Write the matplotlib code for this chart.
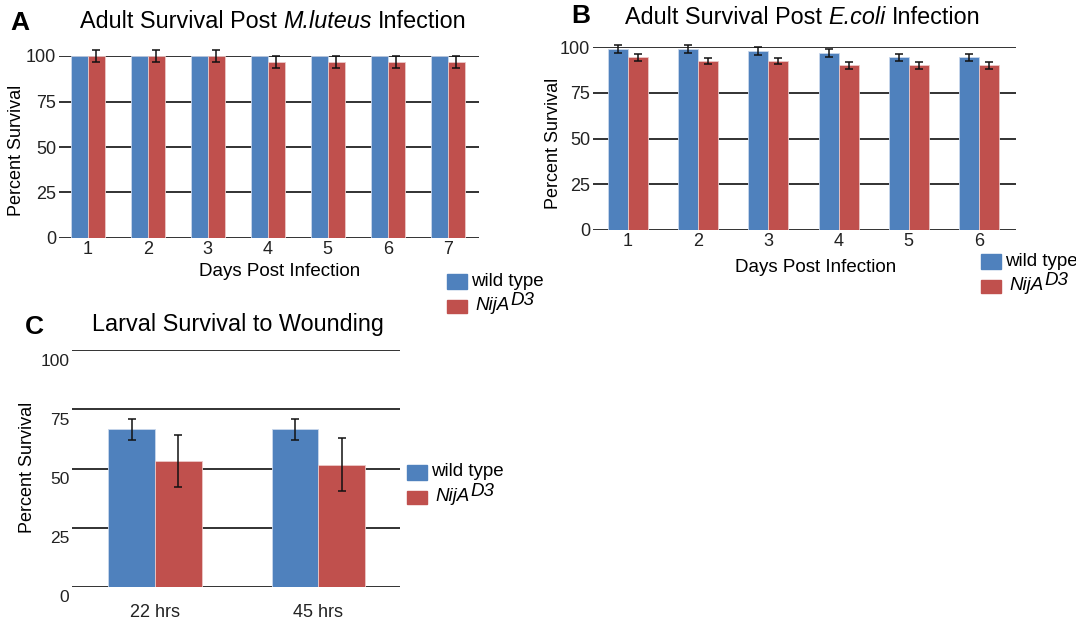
import numpy as np
import matplotlib.pyplot as plt
from matplotlib.patches import Rectangle
from matplotlib.transforms import ScaledTranslation

plt.rcParams['font.family'] = ['Liberation Sans', 'DejaVu Sans']

BLUE = '#4f81bd'
RED = '#c0504d'

# A: adult survival, M.luteus
days_a = ['1', '2', '3', '4', '5', '6', '7']
wt_a = [100, 100, 100, 100, 100, 100, 100]
nij_a = [100, 100, 100, 96.7, 96.7, 96.7, 96.7]
nij_a_err = [3.5, 3.5, 3.5, 3.2, 3.2, 3.2, 3.2]

# B: adult survival, E.coli
days_b = ['1', '2', '3', '4', '5', '6']
wt_b = [98.8, 98.8, 97.8, 96.7, 94.3, 94.3]
wt_b_err = [2.1, 2.1, 2.1, 2.2, 2.1, 2.1]
nij_b = [94.3, 92.2, 92.2, 89.9, 89.9, 89.9]
nij_b_err = [1.7, 1.6, 1.6, 1.7, 1.7, 1.7]

# C: larval survival to wounding
times_c = ['22 hrs', '45 hrs']
wt_c = [66.5, 66.5]
wt_c_err = [4.5, 4.5]
nij_c = [53.0, 51.6]
nij_c_err = [11.0, 11.1]

W, H = 1076, 621
fig = plt.figure(figsize=(W / 100, H / 100), dpi=100)
rend = fig.canvas.get_renderer()


def px(x0, y0, x1, y1):
    # pixel box -> figure fraction rect
    return [x0 / W, 1 - y1 / H, (x1 - x0) / W, (y1 - y0) / H]


def rich(xc, y, parts, size):
    # centred line made of normal / italic pieces
    texts = [fig.text(0, 1 - y / H, s, fontsize=size, style=st, va='center', ha='left')
             for s, st in parts]
    gap = 0.278 * size * 100 / 72
    widths = [t.get_window_extent(rend).width for t in texts]
    total = sum(widths) + gap * (len(texts) - 1)
    x = xc - total / 2
    for t, w in zip(texts, widths):
        t.set_x(x / W)
        x += w + gap


def panel(ax, cats, wt, nij, wt_err, nij_err, lo, hi):
    x = np.arange(len(cats))
    w = 0.285
    ax.bar(x - w / 2, wt, w, color=BLUE, edgecolor='#c9d7ec', linewidth=0.6, zorder=2)
    ax.bar(x + w / 2, nij, w, color=RED, edgecolor='#ecc9c8', linewidth=0.6, zorder=2)
    errs = []
    if wt_err is not None:
        errs.append(ax.errorbar(x - w / 2, wt, yerr=wt_err, fmt='none', ecolor='#111111',
                                elinewidth=1.1, capsize=3, capthick=1.1, zorder=3))
    if nij_err is not None:
        errs.append(ax.errorbar(x + w / 2, nij, yerr=nij_err, fmt='none', ecolor='#111111',
                                elinewidth=1.1, capsize=3, capthick=1.1, zorder=3))
    for eb in errs:
        for art in eb.get_children():
            art.set_clip_on(False)
    for v in [0, 25, 50, 75, 100]:
        ax.axhline(v, color='#222222', lw=1.3, zorder=1)
    ax.set_xlim(lo, hi)
    ax.set_ylim(0, 100)
    ax.set_yticks([0, 25, 50, 75, 100])
    ax.set_xticks(x)
    ax.set_xticklabels(cats)
    ax.tick_params(length=0, labelsize=13, pad=2, colors='#222222')
    for s in ax.spines.values():
        s.set_visible(False)
    ax.patch.set_alpha(0)


def legend(ax, x, y):
    # x, y: top-left of the blue key, in pixels from the top-left corner
    fig.add_artist(Rectangle((x / W, 1 - (y + 15) / H), 20 / W, 15 / H,
                             transform=fig.transFigure, color=BLUE))
    fig.text((x + 24) / W, 1 - (y + 7) / H, 'wild type', fontsize=13.5, va='center')
    y2 = y + 26
    fig.add_artist(Rectangle((x / W, 1 - (y2 + 13) / H), 20 / W, 13 / H,
                             transform=fig.transFigure, color=RED))
    t = fig.text((x + 28) / W, 1 - (y2 + 10) / H, 'NijA', fontsize=13.5,
                 style='italic', va='baseline')
    ax.annotate('D3', xy=(1, 0), xycoords=t, xytext=(0.5, 6.5), textcoords='offset points',
                fontsize=13.5, style='italic', va='baseline', annotation_clip=False)


# panel A
axA = fig.add_axes(px(59, 56, 479, 238))
panel(axA, days_a, wt_a, nij_a, None, nij_a_err, -0.48, 6.52)
fig.text(20 / W, 1 - 23 / H, 'A', fontsize=19, fontweight='bold', ha='center', va='center')
rich(273, 22, [('Adult Survival Post', 'normal'), ('M.luteus', 'italic'),
               ('Infection', 'normal')], 16.8)
fig.text(17 / W, 1 - 150 / H, 'Percent Survival', rotation=90, fontsize=13,
         ha='center', va='center')
fig.text(280 / W, 1 - 272 / H, 'Days Post Infection', fontsize=13.5, ha='center', va='center')
legend(axA, 447, 274)

# panel B
axB = fig.add_axes(px(593, 47, 1016, 230))
panel(axB, days_b, wt_b, nij_b, wt_b_err, nij_b_err, -0.50, 5.53)
fig.text(581 / W, 1 - 16 / H, 'B', fontsize=19, fontweight='bold', ha='center', va='center')
rich(803, 17, [('Adult Survival Post', 'normal'), ('E.coli', 'italic'),
               ('Infection', 'normal')], 16.8)
fig.text(553 / W, 1 - 143 / H, 'Percent Survival', rotation=90, fontsize=13,
         ha='center', va='center')
fig.text(816 / W, 1 - 268 / H, 'Days Post Infection', fontsize=13.5, ha='center', va='center')
legend(axB, 981, 254)

# panel C
axC = fig.add_axes(px(72, 350, 400, 587))
panel(axC, times_c, wt_c, nij_c, wt_c_err, nij_c_err, -0.508, 1.50)
axC.tick_params(axis='x', pad=12)
axC.tick_params(axis='y', labelsize=12.5)
shift = ScaledTranslation(0, -0.095, fig.dpi_scale_trans)
for lab in axC.get_yticklabels():
    lab.set_transform(lab.get_transform() + shift)
fig.text(34 / W, 1 - 327 / H, 'C', fontsize=19, fontweight='bold', ha='center', va='center')
fig.text(238 / W, 1 - 325 / H, 'Larval Survival to Wounding', fontsize=16.8,
         ha='center', va='center')
fig.text(28 / W, 1 - 467 / H, 'Percent Survival', rotation=90, fontsize=13,
         ha='center', va='center')
legend(axC, 407, 465)

fig.savefig('out.png', dpi=100)
